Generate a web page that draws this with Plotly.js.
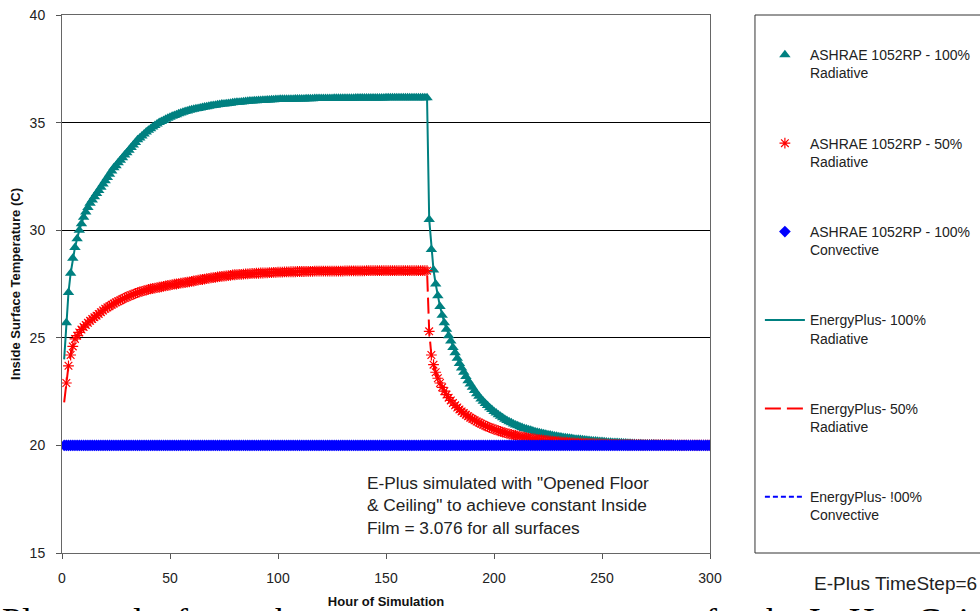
<!DOCTYPE html>
<html>
<head>
<meta charset="utf-8">
<script src="https://cdn.plot.ly/plotly-3.0.1.min.js"></script>
<style>html,body{margin:0;padding:0;overflow:hidden;background:#fff}#chart{width:980px;height:611px}</style>
</head>
<body>
<div id="chart"></div>
<script>
// Hour of simulation: marker series are hourly, first value at hour 1
const firstHour = 1;
const hourStep = 1;

const ashrae100Rad = [
null,25.7,27.1,28.0,28.7,29.2,29.6,30.0,30.3,30.6,
30.85,31.05,31.25,31.4,31.55,31.7,31.85,32.0,32.15,32.3,
32.45,32.6,32.75,32.9,33.0,33.13,33.25,33.37,33.49,33.6,
33.72,33.84,33.96,34.08,34.2,34.29,34.38,34.47,34.56,34.65,
34.72,34.79,34.86,34.93,35.0,35.05,35.1,35.15,35.2,35.25,
35.29,35.33,35.37,35.41,35.45,35.48,35.51,35.54,35.57,35.6,
35.62,35.64,35.66,35.68,35.7,35.72,35.74,35.76,35.78,35.8,
35.81,35.83,35.84,35.86,35.87,35.88,35.89,35.9,35.92,35.93,
35.94,35.95,35.96,35.97,35.98,35.99,36.0,36.0,36.01,36.02,
36.03,36.03,36.04,36.04,36.05,36.05,36.06,36.06,36.07,36.07,
36.08,36.08,36.08,36.09,36.09,36.09,36.09,36.1,36.1,36.1,
36.1,36.1,36.11,36.11,36.11,36.11,36.12,36.12,36.12,36.12,
36.12,36.12,36.12,36.12,36.12,36.13,36.13,36.13,36.13,36.13,
36.13,36.13,36.13,36.13,36.13,36.14,36.14,36.14,36.14,36.14,
36.14,36.14,36.14,36.14,36.14,36.14,36.14,36.14,36.14,36.15,
36.15,36.15,36.15,36.15,36.15,36.15,36.15,36.15,36.15,36.15,
36.15,36.15,36.15,36.15,36.15,36.15,36.15,36.15,36.15,
30.5,29.1,28.15,27.5,26.95,26.45,26.05,25.7,25.4,25.1,24.85,
24.55,24.3,24.05,23.8,23.6,23.4,23.2,23.0,22.85,22.7,
22.55,22.4,22.28,22.16,22.05,21.95,21.85,21.75,21.67,21.58,
21.5,21.42,21.35,21.28,21.22,21.16,21.1,21.05,21.0,20.95,
20.91,20.87,20.83,20.79,20.76,20.73,20.7,20.67,20.64,20.61,
20.59,20.56,20.54,20.52,20.5,20.48,20.46,20.44,20.42,20.4,
20.39,20.37,20.36,20.34,20.33,20.32,20.3,20.29,20.28,20.27,
20.26,20.25,20.24,20.23,20.22,20.21,20.2,20.19,20.18,20.18,
20.17,20.16,20.15,20.15,20.14,20.13,20.13,20.12,20.12,20.11,
20.11,20.1,20.1,20.09,20.09,20.08,20.08,20.08,20.07,20.07,
20.07,20.06,20.06,20.06,20.05,20.05,20.05,20.05,20.04,20.04,
20.04,20.04,20.04,20.03,20.03,20.03,20.03,20.03,20.03,20.02,
20.02,20.02,20.02,20.02,20.02,20.02,20.02,20.02,20.01,20.01
];

const ashrae50Rad = [
null,22.9,23.7,24.2,24.6,24.95,25.1,25.25,25.38,25.5,
25.6,25.7,25.79,25.87,25.95,26.03,26.11,26.19,26.27,26.35,
26.41,26.47,26.53,26.59,26.65,26.7,26.75,26.8,26.85,26.9,
26.94,26.98,27.02,27.06,27.1,27.13,27.16,27.19,27.22,27.25,
27.27,27.29,27.31,27.33,27.35,27.37,27.39,27.41,27.43,27.45,
27.47,27.49,27.5,27.52,27.54,27.55,27.57,27.59,27.6,27.62,
27.64,27.66,27.68,27.7,27.71,27.73,27.75,27.76,27.78,27.8,
27.81,27.83,27.84,27.85,27.87,27.88,27.89,27.9,27.92,27.93,
27.94,27.95,27.95,27.96,27.97,27.97,27.98,27.99,27.99,28.0,
28.0,28.01,28.01,28.02,28.02,28.03,28.03,28.04,28.04,28.05,
28.05,28.05,28.06,28.06,28.06,28.07,28.07,28.07,28.08,28.08,
28.08,28.08,28.09,28.09,28.09,28.09,28.1,28.1,28.1,28.1,
28.1,28.1,28.1,28.1,28.1,28.1,28.1,28.1,28.1,28.1,
28.11,28.11,28.11,28.11,28.11,28.11,28.11,28.11,28.11,28.11,
28.12,28.12,28.12,28.12,28.12,28.12,28.12,28.12,28.12,28.12,
28.12,28.12,28.12,28.12,28.12,28.12,28.12,28.12,28.12,28.12,
28.12,28.12,28.12,28.12,28.12,28.12,28.12,28.12,28.12,
25.3,24.2,23.75,23.4,23.12,22.9,22.7,22.52,22.36,22.22,22.09,
21.97,21.86,21.76,21.67,21.58,21.5,21.43,21.36,21.29,21.23,
21.17,21.11,21.06,21.01,20.96,20.91,20.87,20.83,20.79,20.75,
20.72,20.68,20.65,20.62,20.59,20.56,20.53,20.51,20.48,20.46,
20.44,20.42,20.4,20.38,20.36,20.34,20.33,20.31,20.3,20.28,
20.27,20.26,20.24,20.23,20.22,20.21,20.2,20.19,20.18,20.17,
20.16,20.15,20.15,20.14,20.13,20.12,20.12,20.11,20.11,20.1,
20.1,20.09,20.09,20.08,20.08,20.08,20.07,20.07,20.07,20.06,
20.06,20.06,20.05,20.05,20.05,20.05,20.04,20.04,20.04,20.04,
20.04,20.03,20.03,20.03,20.03,20.03,20.03,20.02,20.02,20.02,
20.02,20.02,20.02,20.02,20.02,20.02,20.02,20.02,20.02,20.02,
20.02,20.02,20.01,20.01,20.01,20.01,20.01,20.01,20.01,20.01,
20.01,20.01,20.01,20.01,20.01,20.01,20.01,20.01,20.01,20.01
];

const ashrae100Conv = [
20,20,20,20,20,20,20,20,20,20,20,20,20,20,20,20,20,20,20,20,
20,20,20,20,20,20,20,20,20,20,20,20,20,20,20,20,20,20,20,20,
20,20,20,20,20,20,20,20,20,20,20,20,20,20,20,20,20,20,20,20,
20,20,20,20,20,20,20,20,20,20,20,20,20,20,20,20,20,20,20,20,
20,20,20,20,20,20,20,20,20,20,20,20,20,20,20,20,20,20,20,20,
20,20,20,20,20,20,20,20,20,20,20,20,20,20,20,20,20,20,20,20,
20,20,20,20,20,20,20,20,20,20,20,20,20,20,20,20,20,20,20,20,
20,20,20,20,20,20,20,20,20,20,20,20,20,20,20,20,20,20,20,20,
20,20,20,20,20,20,20,20,20,20,20,20,20,20,20,20,20,20,20,20,
20,20,20,20,20,20,20,20,20,20,20,20,20,20,20,20,20,20,20,20,
20,20,20,20,20,20,20,20,20,20,20,20,20,20,20,20,20,20,20,20,
20,20,20,20,20,20,20,20,20,20,20,20,20,20,20,20,20,20,20,20,
20,20,20,20,20,20,20,20,20,20,20,20,20,20,20,20,20,20,20,20,
20,20,20,20,20,20,20,20,20,20,20,20,20,20,20,20,20,20,20,20,
20,20,20,20,20,20,20,20,20,20,20,20,20,20,20,20,20,20,20,20
];

// EnergyPlus line series
const lineHours = [1,2,3,4,5,6,7,8,10,12,15,20,25,30,35,40,45,50,60,70,80,90,100,120,140,169,
  170,171,172,173,174,175,177,180,183,186,190,195,200,205,210,220,230,240,250,260,270,280,290,300];
const eplus100Rad = [24.0,25.7,27.1,28.0,28.7,29.2,29.6,30.0,30.6,31.05,31.55,32.3,33.0,33.6,34.2,34.65,35.0,35.25,35.6,35.8,35.93,36.02,36.07,36.12,36.14,36.15,
  30.5,29.1,28.15,27.5,26.95,26.45,25.7,24.85,24.05,23.4,22.7,22.05,21.58,21.22,20.95,20.61,20.4,20.27,20.18,20.11,20.07,20.04,20.02,20.01];
const eplus50Rad = [22.0,22.9,23.7,24.2,24.6,24.95,25.1,25.25,25.5,25.7,25.95,26.35,26.65,26.9,27.1,27.25,27.35,27.45,27.62,27.8,27.93,28.0,28.05,28.1,28.11,28.12,
  25.3,24.2,23.75,23.4,23.12,22.9,22.52,22.09,21.76,21.5,21.23,20.96,20.75,20.59,20.46,20.28,20.17,20.1,20.06,20.04,20.02,20.02,20.01,20.01];
const eplus100Conv = [20,20,20,20,20,20,20,20,20,20,20,20,20,20,20,20,20,20,20,20,20,20,20,20,20,20,
  20,20,20,20,20,20,20,20,20,20,20,20,20,20,20,20,20,20,20,20,20,20,20,20];

const seriesNames = [
  'ASHRAE 1052RP - 100%<br>Radiative',
  'ASHRAE 1052RP - 50%<br>Radiative',
  'ASHRAE 1052RP - 100%<br>Convective',
  'EnergyPlus- 100%<br>Radiative',
  'EnergyPlus- 50%<br>Radiative',
  'EnergyPlus- !00%<br>Convective'
];
const xTicks = [0,50,100,150,200,250,300];
const yTicks = [15,20,25,30,35,40];

const TEAL = '#008080', RED = '#FF0000', BLUE = '#0000FF';
const FONT = 'Liberation Sans, Arial, sans-serif';
const SERIF = 'Liberation Serif, Times New Roman, serif';

const traces = [
  {type:'scatter', mode:'lines', name:seriesNames[3], x:lineHours, y:eplus100Rad,
   line:{color:TEAL, width:2}, legendgroup:'g4', legendrank:4},
  {type:'scatter', mode:'lines', name:seriesNames[4], x:lineHours, y:eplus50Rad,
   line:{color:RED, width:2, dash:'16px,6px'}, legendgroup:'g5', legendrank:5},
  {type:'scatter', mode:'lines', name:seriesNames[5], x:lineHours, y:eplus100Conv,
   line:{color:BLUE, width:2, dash:'5px,3px'}, legendgroup:'g6', legendrank:6},
  {type:'scatter', mode:'markers', name:seriesNames[0], x0:firstHour, dx:hourStep, y:ashrae100Rad,
   marker:{symbol:'triangle-up', size:10, color:TEAL}, legendgroup:'g1', legendrank:1},
  {type:'scatter', mode:'markers', name:seriesNames[1], x0:firstHour, dx:hourStep, y:ashrae50Rad,
   marker:{symbol:'asterisk-open', size:9, color:RED, line:{color:RED, width:1.2}}, legendgroup:'g2', legendrank:2},
  {type:'scatter', mode:'markers', name:seriesNames[2], x0:firstHour, dx:hourStep, y:ashrae100Conv,
   marker:{symbol:'diamond', size:9, color:BLUE}, legendgroup:'g3', legendrank:3}
];

const layout = {
  width:980, height:611,
  margin:{l:62, r:270, t:15, b:58, autoexpand:false},
  paper_bgcolor:'#fff', plot_bgcolor:'#fff',
  font:{family:FONT, color:'#222'},
  showlegend:true,
  legend:{x:1.077, xanchor:'left', y:0.955, yanchor:'top', bgcolor:'rgba(0,0,0,0)',
    borderwidth:0, font:{family:FONT, size:14, color:'#222'}, traceorder:'grouped',
    tracegroupgap:49, valign:'top', itemwidth:40},
  xaxis:{range:[0,300], tickvals:xTicks, ticks:'outside', ticklen:5, tickcolor:'#555',
    showline:true, linecolor:'#666', mirror:true, showgrid:false, zeroline:false,
    tickfont:{family:FONT, size:14, color:'#222'}, ticklabelstandoff:7,
    title:{text:'Hour of Simulation', font:{family:FONT, size:13, color:'#111', weight:'bold'}, standoff:12}},
  yaxis:{range:[15,40], tickvals:yTicks, ticks:'outside', ticklen:5, tickcolor:'#555',
    showline:true, linecolor:'#666', mirror:true, showgrid:true, gridcolor:'#000', gridwidth:1,
    zeroline:false, tickfont:{family:FONT, size:14, color:'#222'}, ticklabelstandoff:8,
    title:{text:'Inside Surface Temperature (C)', font:{family:FONT, size:13, color:'#111', weight:'bold'}, standoff:6}},
  shapes:[
    {type:'rect', xref:'paper', yref:'paper', x0:1.0694, x1:1.45, y0:0, y1:1,
     line:{color:'#333', width:1}, fillcolor:'rgba(0,0,0,0)'}
  ],
  annotations:[
    {xref:'paper', yref:'paper', x:0.467, y:0.152, xanchor:'left', yanchor:'top', align:'left',
     showarrow:false, font:{family:FONT, size:17.3, color:'#222'},
     text:'E-Plus simulated with "Opened Floor<br>& Ceiling" to achieve constant Inside<br>Film = 3.076 for all surfaces'},
    {xref:'paper', yref:'paper', x:1.158, y:-0.0558, xanchor:'left', yanchor:'middle',
     showarrow:false, font:{family:FONT, size:19, color:'#222'}, text:'E-Plus TimeStep=6'},
    {xref:'paper', yref:'paper', x:-0.0957, y:-0.086, xanchor:'left', yanchor:'top', align:'left',
     showarrow:false, font:{family:SERIF, size:36, color:'#000'},
     text:'Plus results for each'},
    {xref:'paper', yref:'paper', x:1.43, y:-0.086, xanchor:'right', yanchor:'top', align:'right',
     showarrow:false, font:{family:SERIF, size:36, color:'#000'},
     text:'temperature for the IntHeatGain'}
  ]
};

Plotly.newPlot('chart', traces, layout, {staticPlot:true, displayModeBar:false});
</script>
</body>
</html>
